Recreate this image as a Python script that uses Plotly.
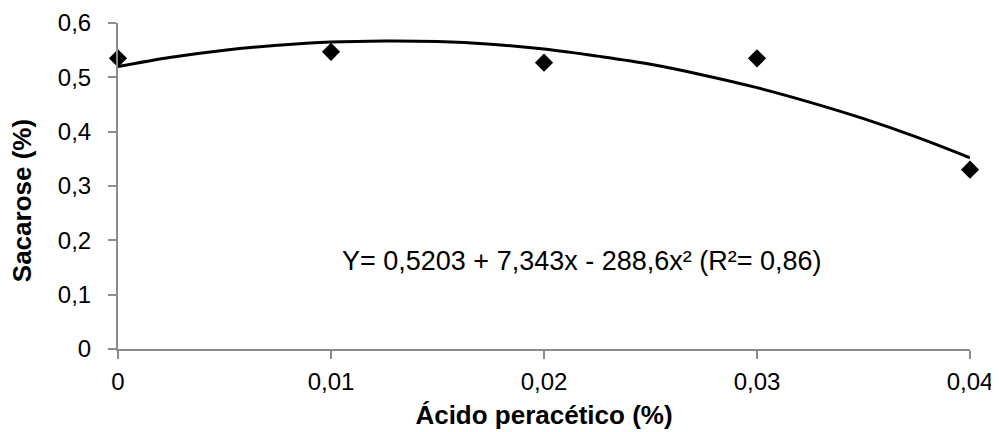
import plotly.graph_objects as go

# Observed data points
acido = [0.0, 0.01, 0.02, 0.03, 0.04]
sacarose = [0.535, 0.547, 0.527, 0.535, 0.330]

# Trend curve
curva_x = [0.0, 0.0025, 0.005, 0.0075, 0.01, 0.0125, 0.015, 0.0175, 0.02,
           0.0225, 0.025, 0.0275, 0.03, 0.0325, 0.035, 0.0375, 0.04]
curva_y = [0.520, 0.537, 0.550, 0.559, 0.565, 0.567, 0.566, 0.561, 0.552,
           0.539, 0.524, 0.504, 0.481, 0.454, 0.424, 0.390, 0.352]

x_ticks = [0, 0.01, 0.02, 0.03, 0.04]
y_ticks = [0, 0.1, 0.2, 0.3, 0.4, 0.5, 0.6]

equacao = "Y= 0,5203 + 7,343x - 288,6x² (R²= 0,86)"
titulo_x = "Ácido peracético (%)"
titulo_y = "Sacarose (%)"

FONT = "Liberation Sans, Arial, sans-serif"

fig = go.Figure()
fig.add_trace(go.Scatter(x=curva_x, y=curva_y, mode="lines",
                         line=dict(color="black", width=3, shape="spline"),
                         cliponaxis=False, showlegend=False))
fig.add_trace(go.Scatter(x=acido, y=sacarose, mode="markers",
                         marker=dict(symbol="diamond", size=14, color="black"),
                         cliponaxis=False, showlegend=False))

fig.add_annotation(x=0.02178, y=0.162, xref="x", yref="y", text=equacao,
                   showarrow=False, font=dict(size=27, color="black", family=FONT))

# y-axis title (placed slightly below the plot centre, as in the reference)
fig.add_annotation(x=0, xref="paper", xanchor="center", xshift=-96,
                   y=0.272, yref="y", yanchor="middle", textangle=-90,
                   text=f"<b>{titulo_y}</b>", showarrow=False,
                   font=dict(size=26, color="black", family=FONT))

axis_common = dict(showgrid=False, zeroline=False, showline=True, automargin=False,
                   linecolor="#8c8c8c", linewidth=2, ticks="outside",
                   tickcolor="#8c8c8c", ticklen=8, tickwidth=2,
                   tickfont=dict(family=FONT, size=24, color="black"))

# The page body has an 8px default margin; the figure size/margins account for it
fig.update_layout(
    width=991, height=424,
    margin=dict(l=110, r=29, t=15, b=83),
    plot_bgcolor="white", paper_bgcolor="white",
    separators=",.",
    font=dict(family=FONT, color="black"),
    xaxis=dict(range=[0, 0.04], tickvals=x_ticks, ticklabelstandoff=2,
               title=dict(text=f"<b>{titulo_x}</b>",
                          font=dict(size=26, family=FONT), standoff=12),
               **axis_common),
    yaxis=dict(range=[0, 0.6], tickvals=y_ticks, ticklabelstandoff=12,
               **axis_common),
)

fig.write_html("out.html")
